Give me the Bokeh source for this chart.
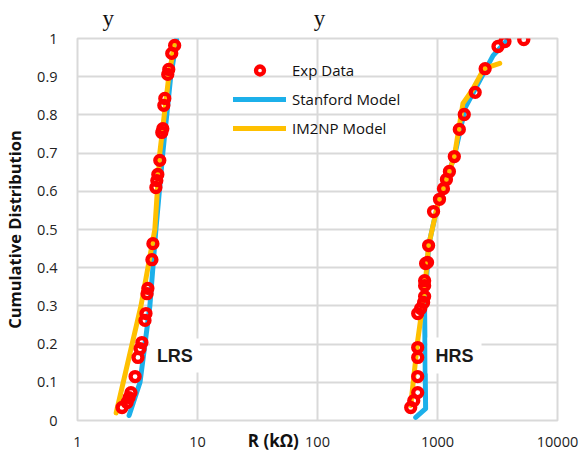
from bokeh.plotting import figure
from bokeh.models import (Range1d, FixedTicker, CustomJSTickFormatter, Legend, LegendItem, Label, LogAxis)
from bokeh.embed import file_html
from bokeh.resources import INLINE

# ---------------- data ----------------
# Experimental data, LRS
lrs_exp_r = [6.45, 6.10, 5.76, 5.65, 5.34, 5.24, 5.14, 5.04, 4.85, 4.67, 4.58, 4.50,
             4.25, 4.17, 3.86, 3.80, 3.72, 3.65, 3.44, 3.32, 3.19, 3.02, 2.79, 2.69, 2.59, 2.35]
lrs_exp_p = [0.982, 0.961, 0.919, 0.906, 0.843, 0.825, 0.764, 0.754, 0.681, 0.644, 0.628, 0.610,
             0.463, 0.421, 0.346, 0.332, 0.280, 0.262, 0.204, 0.188, 0.165, 0.115, 0.073, 0.060, 0.047, 0.034]
# Experimental data, HRS
hrs_exp_r = [5236, 3648, 3192, 2494, 2061, 1671, 1520, 1381, 1257, 1187, 1121, 1039, 927,
             843, 826, 796, 781, 781, 781, 766, 724, 684, 684, 684, 684, 684, 634, 598]
hrs_exp_p = [0.997, 0.992, 0.979, 0.921, 0.859, 0.801, 0.762, 0.691, 0.652, 0.631, 0.607, 0.579, 0.547,
             0.458, 0.414, 0.411, 0.366, 0.353, 0.325, 0.309, 0.293, 0.280, 0.191, 0.165, 0.115, 0.073, 0.052, 0.034]
# Stanford model
stan_lrs_r = [2.69, 3.32, 4.01, 4.50, 5.14, 5.98, 6.70]
stan_lrs_p = [0.013, 0.10, 0.30, 0.50, 0.70, 0.90, 0.997]
stan_hrs_r = [658, 796, 781, 843, 1000, 1381, 1703, 2904, 3790]
stan_hrs_p = [0.008, 0.031, 0.288, 0.458, 0.563, 0.691, 0.819, 0.955, 0.995]
# IM2NP model
im2_lrs_r = [2.10, 2.85, 3.38, 4.41, 4.85, 5.76, 6.45]
im2_lrs_p = [0.02, 0.20, 0.30, 0.50, 0.70, 0.90, 0.99]
im2_hrs_r = [598, 684, 781, 843, 1000, 1381, 1630, 1940, 2440, 2900, 3300]
im2_hrs_p = [0.039, 0.209, 0.34, 0.458, 0.563, 0.691, 0.830, 0.864, 0.921, 0.929, 0.935]

x_ticks = [1, 10, 100, 1000, 10000]
y_ticks = [0, 0.1, 0.2, 0.3, 0.4, 0.5, 0.6, 0.7, 0.8, 0.9, 1.0]
top_marks = [1.80, 104]   # positions of the two stray "y" glyphs above the chart
top_text = "y"
x_title = "R (kΩ)"

BLUE = "#1cb0ea"
YELLOW = "#ffc000"
RED = "#ff0000"
GRID = "#d9d9d9"
FONT = "Open Sans"

p = figure(width=582, height=457, x_axis_type="log", output_backend="svg",
           toolbar_location=None, x_range=Range1d(1, 10000), y_range=Range1d(0, 1),
           min_border_left=74, min_border_right=25, min_border_top=38, min_border_bottom=37)
p.background_fill_color = "white"
p.border_fill_color = "white"
p.outline_line_color = GRID
p.outline_line_width = 2

for ax in (p.xaxis[0], p.yaxis[0]):
    ax.axis_line_color = None
    ax.major_tick_line_color = None
    ax.minor_tick_line_color = None
    ax.major_label_text_font = FONT
    ax.major_label_text_font_size = "14.5px"
    ax.major_label_text_color = "#222222"

p.xaxis.ticker = FixedTicker(ticks=x_ticks)
p.xaxis.formatter = CustomJSTickFormatter(code="return String(Math.round(tick));")
p.xaxis.major_label_standoff = 10
# x title sits in the tick-label row, left of centre (padded with no-break spaces)
p.xaxis.axis_label = x_title + "\u00a0" * 20
p.xaxis.axis_label_text_font = FONT
p.xaxis.axis_label_text_font_style = "bold"
p.xaxis.axis_label_text_font_size = "17px"
p.xaxis.axis_label_text_color = "#111111"
p.xaxis.axis_label_standoff = -21

p.yaxis.ticker = FixedTicker(ticks=y_ticks)
p.yaxis.formatter = CustomJSTickFormatter(code="return String(Math.round(tick*10)/10);")
p.yaxis.major_label_standoff = 14
p.yaxis.axis_label = "Cumulative Distribution"
p.yaxis.axis_label_text_font = FONT
p.yaxis.axis_label_text_font_style = "bold"
p.yaxis.axis_label_text_font_size = "16.5px"
p.yaxis.axis_label_standoff = 8
p.yaxis.axis_label_text_color = "#111111"

# top axis used only to carry the stray "y" characters
top_ax = LogAxis(ticker=FixedTicker(ticks=top_marks),
                 formatter=CustomJSTickFormatter(code="return '%s';" % top_text),
                 axis_line_color=None, major_tick_line_color=None, minor_tick_line_color=None,
                 major_label_text_font="Liberation Serif", major_label_text_font_size="23px",
                 major_label_text_color="#111111", major_label_standoff=2)
p.add_layout(top_ax, "above")

p.xgrid.ticker = FixedTicker(ticks=x_ticks)
p.ygrid.ticker = FixedTicker(ticks=y_ticks)
for g in (p.xgrid[0], p.ygrid[0]):
    g.grid_line_color = GRID
    g.grid_line_width = 2

# model curves
s1 = p.line(stan_lrs_r, stan_lrs_p, line_color=BLUE, line_width=5, line_cap="round", line_join="round")
p.line(stan_hrs_r, stan_hrs_p, line_color=BLUE, line_width=5, line_cap="round", line_join="round")
y1 = p.line(im2_lrs_r, im2_lrs_p, line_color=YELLOW, line_width=5, line_cap="round", line_join="round")
p.line(im2_hrs_r, im2_hrs_p, line_color=YELLOW, line_width=5, line_cap="round", line_join="round")
# experimental points
e1 = p.scatter(lrs_exp_r, lrs_exp_p, marker="circle", size=9, line_color=RED, line_width=4.3,
               fill_color=None)
p.scatter(hrs_exp_r, hrs_exp_p, marker="circle", size=9, line_color=RED, line_width=4.3,
          fill_color=None)

legend = Legend(items=[LegendItem(label="Exp Data", renderers=[e1]),
                       LegendItem(label="Stanford Model", renderers=[s1]),
                       LegendItem(label="IM2NP Model", renderers=[y1])],
                location=(156, 282), orientation="vertical",
                border_line_color=None, background_fill_alpha=0,
                padding=0, margin=0, spacing=9, glyph_width=53, glyph_height=20,
                label_height=20, label_standoff=6,
                label_text_font=FONT, label_text_font_size="15px", label_text_color="#111111")
p.add_layout(legend)

# state labels with white background
p.add_layout(Label(x=4.01, y=0.17, text="LRS", text_font="Liberation Sans", text_font_style="bold",
                   text_font_size="18px", text_color="#1a1a1a", text_baseline="middle",
                   background_fill_color="white", padding=7))
p.add_layout(Label(x=826, y=0.17, text="HRS", text_font="Liberation Sans", text_font_style="bold",
                   text_font_size="18px", text_color="#1a1a1a", text_baseline="middle",
                   background_fill_color="white", padding=8))

open("out.html", "w").write(file_html(p, INLINE))
